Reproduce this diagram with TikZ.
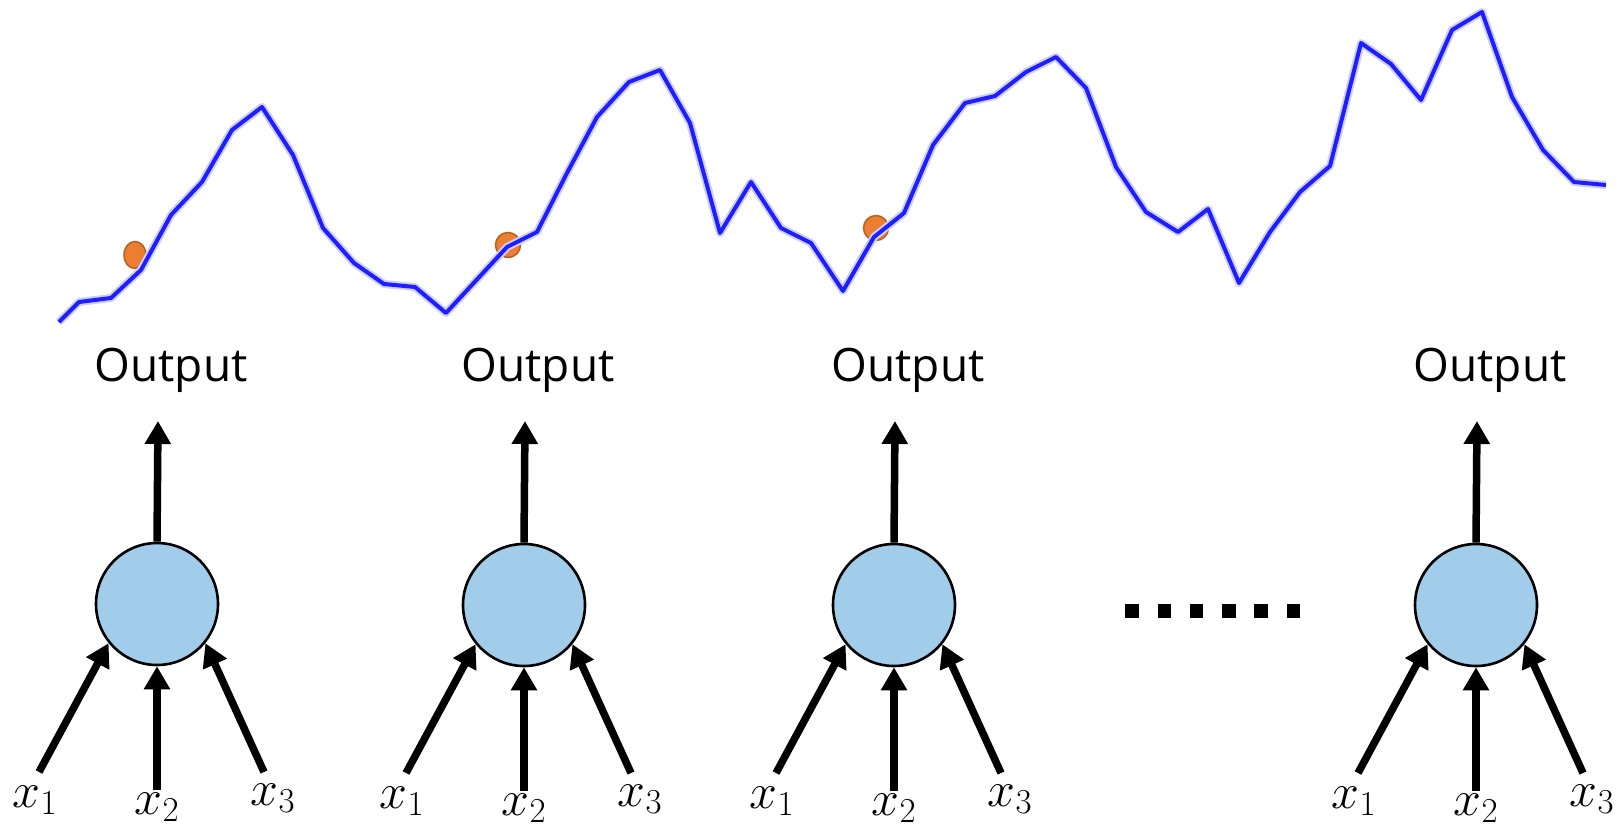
\RequirePackage{fix-cm}
\documentclass[tikz,border=0pt]{standalone}
\usepackage{fontspec}
\setmainfont{Open Sans}
\usepackage{tikz}
\usetikzlibrary{arrows.meta,positioning}
\usepackage{xcolor}
\definecolor{CellBlue}{HTML}{A2CDEA}
\definecolor{TraceBlue}{HTML}{1E1EFF}
\definecolor{DotOrange}{HTML}{ED7D31}
\definecolor{DotEdge}{HTML}{B4601E}
\tikzset{
  cell/.style={circle, draw=black, line width=2.6pt, fill=CellBlue,
    minimum size=122pt, inner sep=0pt},
  fatarr/.style={-{Triangle[length=23pt,width=25pt]}, line width=7.5pt, black},
  outlabel/.style={font=\fontsize{46}{50}\selectfont, anchor=base},
  inlabel/.style={font=\fontsize{50}{55}\selectfont},
}

\begin{document}
\begin{tikzpicture}[x=1pt, y=-1pt,
  trace/.style={line width=4pt, TraceBlue, line join=round},
  tracehalo/.style={line width=8pt, TraceBlue!22, line join=round},
  sample/.style={fill=DotOrange, draw=DotEdge, line width=1.5pt},
]
  \useasboundingbox (0,0) rectangle (1622,828);
  % sampled points on the series
  \draw[sample] (135,255) ellipse [x radius=11, y radius=13.5];
  \draw[sample] (508,245) circle [radius=12.5];
  \draw[sample] (876,228) circle [radius=12.5];
  % the time series
  \def\series{(59,322) (79,302) (111,298) (141,270) (171,215) (202,182)
    (232,130) (262,107) (293,155) (323,228) (354,263) (384,284) (415,287)
    (446,313) (507,247) (537,232) (567,173) (597,117) (629,82) (660,70)
    (690,123) (720,233) (751,182) (781,228) (811,243) (843,291) (874,237)
    (904,213) (933,145) (965,103) (995,96) (1026,72) (1056,57) (1086,88)
    (1116,167) (1146,212) (1178,232) (1208,209) (1239,283) (1270,232)
    (1300,192) (1330,166) (1361,43) (1391,64) (1421,100) (1452,30)
    (1482,12) (1512,97) (1543,150) (1574,182) (1606,185)}
  \draw[tracehalo] plot coordinates {\series};
  \draw[trace] plot coordinates {\series};
  % one neuron per output
  \foreach \i/\cx/\cy in {1/157/604, 2/524/605, 3/894/605, 4/1476/605} {
    \node[cell] (n\i) at (\cx,\cy) {};
    \node[outlabel] (out\i) at (\cx+14,381) {Output};
    \coordinate (top\i) at (\cx+1,421);
    \coordinate (in\i-1) at (\cx-118,\cy+168);
    \coordinate (in\i-2) at (\cx,\cy+186);
    \coordinate (in\i-3) at (\cx+107,\cy+168);
    \node[inlabel] (x\i-1) at (\cx-122,\cy+196) {$x_1$};
    \node[inlabel] (x\i-2) at (\cx,\cy+203) {$x_2$};
    \node[inlabel] (x\i-3) at (\cx+116,\cy+194) {$x_3$};
    \draw[fatarr] (n\i.north) -- (top\i);
    \draw[fatarr] (in\i-1) -- (n\i.219);
    \draw[fatarr] (in\i-2) -- (n\i.south);
    \draw[fatarr] (in\i-3) -- (n\i.321);
  }
  % dots between neurons
  \foreach \k in {0,...,5}
    \fill (1132+32.3*\k,611) +(-6.8,-6.8) rectangle +(6.8,6.8);
\end{tikzpicture}
\end{document}
